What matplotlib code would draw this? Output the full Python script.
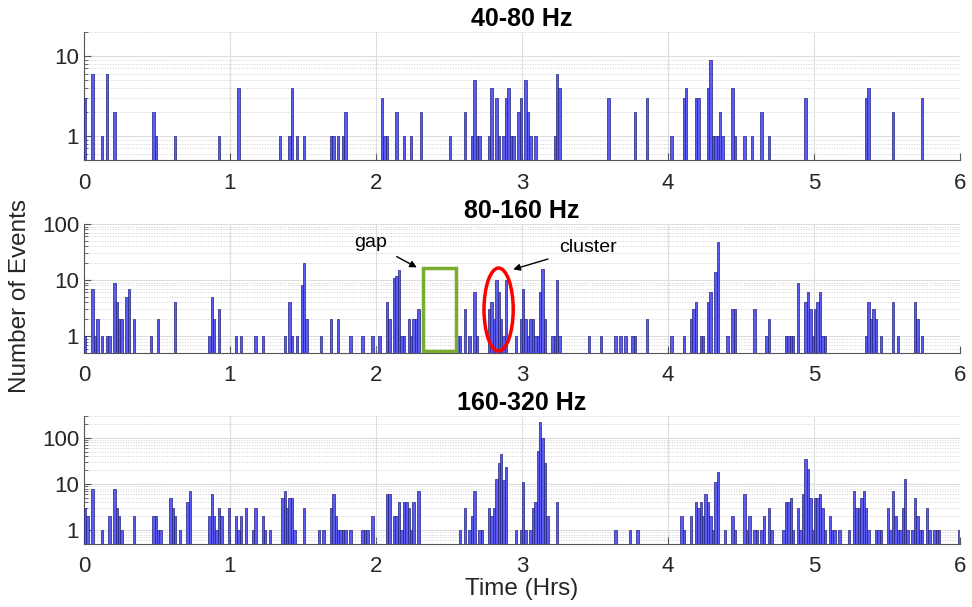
import numpy as np
import matplotlib
matplotlib.use("Agg")
import matplotlib.pyplot as plt
from matplotlib.patches import Ellipse, Rectangle
import matplotlib.transforms as mtransforms
from matplotlib.ticker import LogLocator, FixedLocator, NullFormatter

plt.rcParams['font.family'] = ['Liberation Sans', 'DejaVu Sans']

# one-minute bins: start minute and event count
low_min = [0, 3, 7, 9, 12, 28, 29, 37, 55, 63, 80, 84, 85, 87, 90, 101, 102, 104, 106, 107,
           122, 123, 124, 128, 131, 134, 138, 150, 156, 159, 160, 161, 162, 166, 167, 169, 170,
           172, 173, 174, 175, 176, 178, 179, 181, 182, 183, 185, 193, 194, 195, 215, 226, 231,
           241, 246, 247, 251, 252, 256, 257, 258, 259, 260, 261, 262, 266, 267, 271, 274, 278,
           281, 296, 321, 322, 332, 344]
low_cnt = [3, 6, 1, 6, 2, 2, 1, 1, 1, 4, 1, 1, 4, 1, 1, 1, 1, 1, 1, 2,
           3, 1, 1, 2, 1, 1, 2, 1, 2, 1, 5, 1, 1, 1, 4, 3, 1,
           1, 3, 4, 1, 1, 2, 3, 5, 2, 1, 1, 1, 6, 4, 3, 2, 3,
           1, 3, 4, 3, 3, 4, 9, 1, 1, 1, 2, 1, 4, 1, 1, 1, 2,
           1, 3, 3, 4, 2, 3]

mid_min = [0, 3, 4, 5, 7, 9, 10, 12, 13, 14, 15, 17, 18, 20, 27, 30, 37, 51, 52, 53, 55, 62,
           64, 70, 73, 82, 84, 85, 87, 89, 90, 91, 97, 101, 104, 109, 114, 118, 121, 124, 125,
           127, 128, 129, 130, 131, 133, 134, 135, 136, 137, 153, 154, 156, 158, 160, 161, 166,
           167, 168, 169, 170, 171, 172, 173, 177, 179, 180, 181, 182, 183, 184, 185, 186, 187,
           188, 189, 192, 193, 194, 195, 207, 212, 218, 220, 222, 225, 226, 231, 241, 246, 249,
           250, 251, 253, 254, 256, 257, 259, 260, 264, 266, 267, 275, 280, 281, 288, 289, 290,
           291, 293, 296, 297, 298, 299, 300, 301, 302, 303, 304, 321, 322, 323, 324, 325, 327,
           332, 334, 341, 342, 344]
mid_cnt = [1, 7, 1, 2, 1, 1, 1, 9, 4, 2, 2, 5, 7, 2, 1, 2, 4, 1, 5, 2, 3, 1,
           1, 1, 1, 1, 4, 1, 1, 8, 20, 2, 1, 2, 2, 1, 1, 1, 1, 4, 2,
           11, 12, 15, 1, 1, 2, 1, 2, 2, 3, 1, 1, 3, 1, 6, 1, 3,
           4, 2, 10, 6, 2, 1, 10, 1, 2, 7, 2, 1, 2, 2, 1, 1, 6,
           16, 2, 1, 1, 10, 1, 1, 1, 1, 1, 1, 1, 1, 2, 1, 1, 2,
           3, 4, 1, 1, 4, 6, 14, 47, 1, 3, 3, 3, 1, 2, 1, 1, 1,
           1, 9, 4, 6, 3, 1, 3, 4, 6, 1, 1, 1, 4, 2, 3, 2, 1,
           4, 1, 4, 2, 1]

high_min = [0, 1, 3, 7, 10, 12, 13, 14, 15, 20, 28, 29, 30, 31, 35, 36, 37, 39, 42, 43, 51, 52,
            53, 54, 55, 56, 59, 62, 63, 64, 66, 69, 70, 73, 74, 76, 81, 82, 83, 84, 85, 86, 90,
            96, 98, 101, 102, 103, 104, 105, 106, 107, 109, 114, 115, 116, 118, 124, 125, 127,
            128, 129, 130, 131, 132, 133, 134, 135, 137, 154, 156, 158, 159, 160, 162, 163, 166,
            167, 168, 169, 170, 171, 172, 173, 177, 179, 180, 181, 183, 184, 185, 186, 187, 188,
            189, 190, 194, 218, 224, 227, 245, 246, 249, 251, 252, 253, 254, 255, 256, 257, 258,
            259, 260, 263, 266, 267, 271, 272, 273, 275, 276, 278, 279, 281, 282, 287, 288, 289,
            290, 291, 293, 294, 295, 296, 297, 298, 299, 300, 301, 302, 303, 304, 306, 307, 308,
            310, 314, 316, 317, 318, 319, 320, 321, 322, 325, 326, 327, 330, 331, 332, 333, 334,
            335, 336, 337, 338, 340, 341, 342, 343, 344, 346, 347, 349, 350, 351, 359]
high_cnt = [3, 2, 8, 1, 2, 8, 3, 2, 1, 2, 2, 2, 1, 1, 5, 3, 2, 1, 4, 7, 2, 6,
            2, 1, 3, 2, 3, 2, 1, 2, 3, 1, 3, 2, 1, 1, 5, 7, 3, 5, 5, 1, 3,
            1, 1, 3, 6, 2, 1, 1, 1, 1, 1, 1, 1, 1, 2, 6, 6, 2,
            2, 4, 1, 4, 4, 3, 1, 4, 7, 1, 3, 1, 2, 7, 1, 1, 3,
            2, 3, 13, 28, 46, 12, 24, 1, 1, 11, 1, 1, 3, 4, 53, 218, 98,
            29, 2, 4, 1, 1, 1, 2, 1, 2, 4, 3, 4, 2, 6, 4, 2, 1,
            11, 18, 1, 2, 1, 6, 1, 2, 1, 1, 1, 2, 3, 1, 1, 4, 4,
            5, 1, 3, 1, 6, 35, 21, 5, 1, 5, 5, 6, 3, 1, 2, 1, 1,
            1, 1, 7, 3, 3, 5, 7, 3, 1, 1, 1, 1, 3, 1, 7, 2, 1,
            1, 3, 13, 1, 1, 5, 2, 1, 1, 3, 1, 1, 1, 1, 1]

titles = ["40-80 Hz", "80-160 Hz", "160-320 Hz"]
ytops = [20, 100, 300]
yticks = [[1, 10], [1, 10, 100], [1, 10, 100]]

fig = plt.figure(figsize=(9.72, 6.07), dpi=100)
boxes = [[0.0864, 0.7364, 0.9012, 0.2109],
         [0.0864, 0.4185, 0.9012, 0.2125],
         [0.0864, 0.1038, 0.9012, 0.2109]]
axes = [fig.add_axes(b) for b in boxes]

data = [(low_min, low_cnt), (mid_min, mid_cnt), (high_min, high_cnt)]
txt = '#262626'
for ax, (mins, cnts), title, ytop, yt in zip(axes, data, titles, ytops, yticks):
    ax.set_yscale('log')
    ax.bar(np.array(mins) / 60.0, cnts, width=1 / 60.0, align='edge',
           color='#5c5cf4', edgecolor='#22227a', linewidth=0.5, zorder=3)
    ax.set_xlim(0, 6)
    ax.set_ylim(0.5, ytop)
    ax.set_xticks(range(7))
    ax.yaxis.set_major_locator(FixedLocator(yt))
    ax.set_yticklabels([str(v) for v in yt])
    ax.yaxis.set_minor_locator(LogLocator(base=10, subs=np.arange(2, 10)))
    ax.yaxis.set_minor_formatter(NullFormatter())
    ax.grid(True, which='major', color='#dddddd', linewidth=0.8, zorder=0)
    ax.grid(True, which='minor', axis='y', color='#cfcfcf', linestyle=':', linewidth=0.7, zorder=0)
    ax.set_axisbelow(True)
    for s in ['top', 'right']:
        ax.spines[s].set_visible(False)
    for s in ['left', 'bottom']:
        ax.spines[s].set_color('#555555')
        ax.spines[s].set_linewidth(0.8)
    ax.tick_params(which='both', direction='in', colors='#555555', labelcolor=txt,
                   labelsize=16)
    ax.tick_params(which='major', length=5)
    ax.tick_params(which='minor', length=3)
    ax.tick_params(axis='x', pad=9)
    ax.set_title(title, fontsize=18, fontweight='bold', color='black', pad=4)

# annotations on the 80-160 Hz panel
ax = axes[1]
ax.add_patch(Rectangle((2.32, 0.54), 0.23, 15.8, fill=False, edgecolor='#77ac30',
                       linewidth=2.5, zorder=5))
trans = mtransforms.blended_transform_factory(ax.transData, ax.transAxes)
ax.add_patch(Ellipse((2.84, 0.337), 0.2, 0.643, transform=trans, fill=False,
                     edgecolor='red', linewidth=2.5, zorder=5))
ax.annotate('gap', xy=(2.28, 16.8), xytext=(1.96, 47), fontsize=14, ha='center', va='center',
            arrowprops=dict(arrowstyle='-|>', color='black', lw=1, shrinkA=6, shrinkB=0,
                            mutation_scale=10))
ax.annotate('cluster', xy=(2.94, 15.5), xytext=(3.45, 38.5), fontsize=14, ha='center',
            va='center',
            arrowprops=dict(arrowstyle='-|>', color='black', lw=1, shrinkA=6, shrinkB=0,
                            mutation_scale=10))

fig.text(0.021, 0.512, 'Number of Events', rotation=90, fontsize=17.5, color=txt,
         ha='center', va='center')
fig.text(0.537, 0.03, 'Time (Hrs)', fontsize=17.5, color=txt, ha='center', va='center')

fig.savefig('out.png', dpi=100)
